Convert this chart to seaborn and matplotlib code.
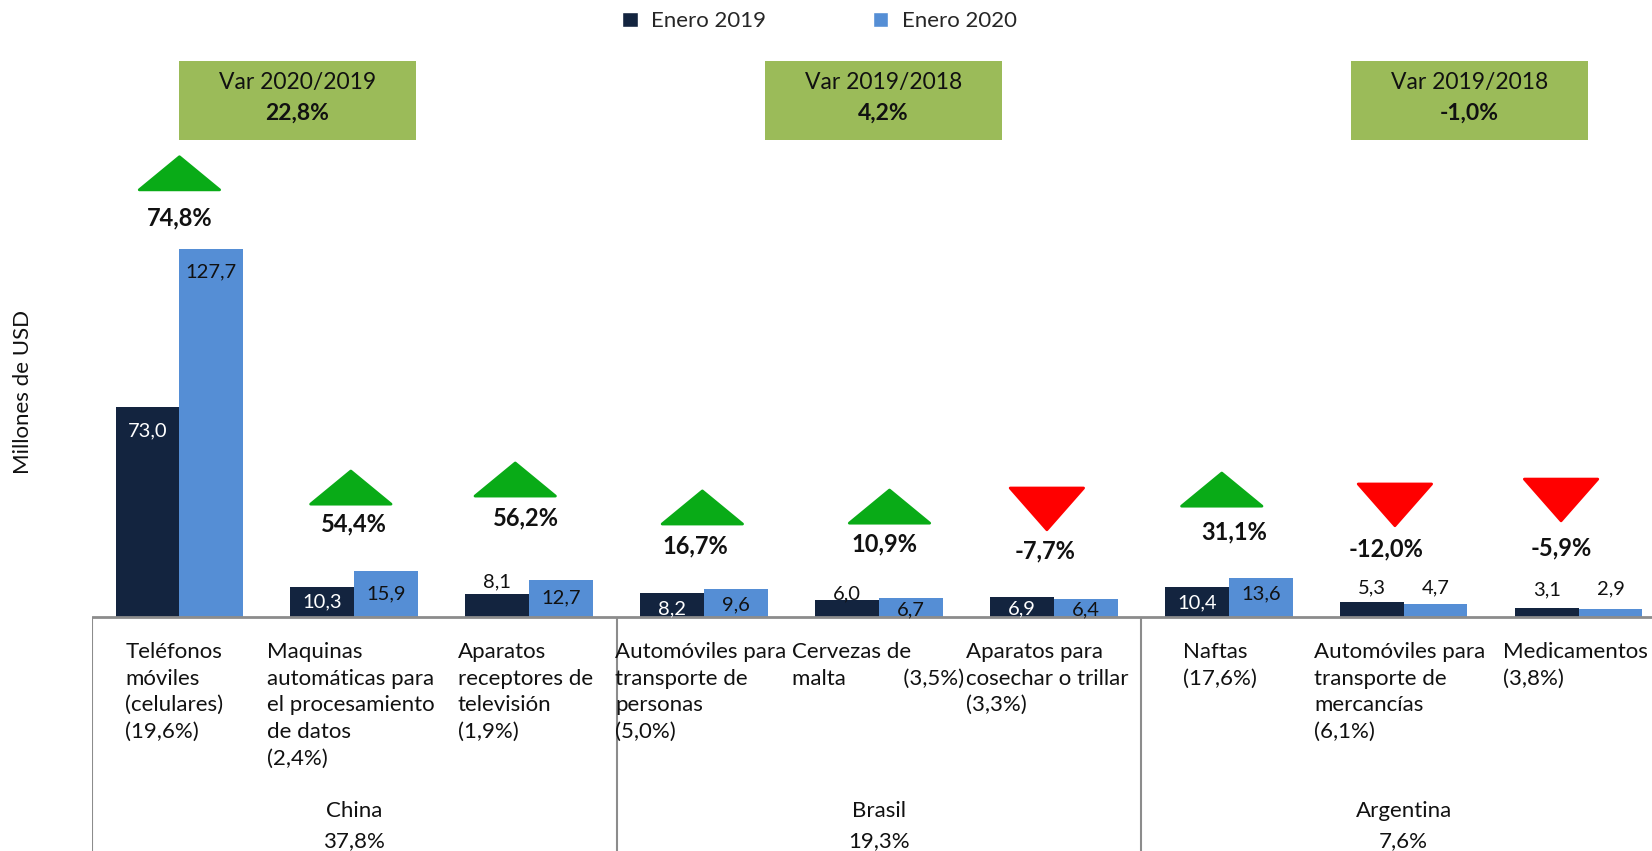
import matplotlib
matplotlib.use('Agg')
import matplotlib.pyplot as plt
from matplotlib.patches import Polygon, Rectangle, Patch
import seaborn as sns
import pandas as pd

# datos
productos = ['Teléfonos móviles', 'Maquinas automáticas', 'Aparatos receptores',
             'Automóviles personas', 'Cervezas de malta', 'Aparatos cosechar',
             'Naftas', 'Automóviles mercancías', 'Medicamentos']
etiquetas = ['Teléfonos\nmóviles\n(celulares)\n(19,6%)',
             'Maquinas\nautomáticas para\nel procesamiento\nde datos\n(2,4%)',
             'Aparatos\nreceptores de\ntelevisión\n(1,9%)',
             'Automóviles para\ntransporte de\npersonas\n(5,0%)',
             'Cervezas de\nmalta' + ' ' * 10 + '(3,5%)',
             'Aparatos para\ncosechar o trillar\n(3,3%)',
             'Naftas\n(17,6%)',
             'Automóviles para\ntransporte de\nmercancías\n(6,1%)',
             'Medicamentos\n(3,8%)']
enero_2019 = [73.0, 10.3, 8.1, 8.2, 6.0, 6.9, 10.4, 5.3, 3.1]
enero_2020 = [127.7, 15.9, 12.7, 9.6, 6.7, 6.4, 13.6, 4.7, 2.9]
variacion = [74.8, 54.4, 56.2, 16.7, 10.9, -7.7, 31.1, -12.0, -5.9]
paises = ['China', 'Brasil', 'Argentina']
paises_share = ['37,8%', '19,3%', '7,6%']
var_titulos = ['Var 2020/2019', 'Var 2019/2018', 'Var 2019/2018']
var_valores = ['22,8%', '4,2%', '-1,0%']

# layout (posiciones manuales de las etiquetas)
lab_y_19 = [64.5, 5.2, 12.3, 2.9, 8.1, 2.9, 5.0, 10.0, 9.3]
lab_y_20 = [119.7, 8.0, 6.6, 4.3, 2.4, 2.5, 8.1, 10.0, 9.8]
tri_pos = [(0.0, 148.3), (0.98, 39.2), (1.92, 42.0), (2.99, 32.3), (4.06, 32.6),
           (4.96, 44.8), (5.96, 38.5), (6.95, 46.2), (7.90, 47.9)]
pct_pos = [(0.0, 138.5), (1.0, 32.3), (1.98, 34.4), (2.95, 24.7), (4.03, 25.3),
           (4.95, 22.9), (6.03, 29.5), (6.9, 23.6), (7.9, 24.0)]
lab_x = [-0.31, 0.50, 1.59, 2.49, 3.50, 4.50, 5.74, 6.49, 7.57]

c19 = '#13243f'
c20 = '#558ed5'
FONT = 'Lato'

df = pd.DataFrame({
    'producto': productos * 2,
    'anio': ['Enero 2019'] * 9 + ['Enero 2020'] * 9,
    'valor': enero_2019 + enero_2020,
})

sns.set_style('white')
plt.rcParams['font.family'] = [FONT, 'DejaVu Sans']

fig = plt.figure(figsize=(16.52, 8.51), dpi=100)
ax = fig.add_axes([92 / 1652, 0, 1 - 92 / 1652, 1])
sns.barplot(data=df, x='producto', y='valor', hue='anio', order=productos,
            palette=[c19, c20], width=0.73, saturation=1, linewidth=0,
            legend=False, ax=ax)
ax.set_xlim(-0.5, 8.42)
ax.set_ylim(-81.2, 214.2)
ax.axis('off')

ax.axhline(0, color='#8c8c8c', lw=2, zorder=5)
ax.vlines([-0.5, 2.5, 5.5], -81.2, 0, color='#8c8c8c', lw=1.5)

fmt = lambda v: f'{v:.1f}'.replace('.', ',')
bw = 0.73 / 2
for i in range(9):
    col19 = 'white' if lab_y_19[i] < enero_2019[i] else '#111111'
    ax.text(i - bw / 2, lab_y_19[i], fmt(enero_2019[i]), ha='center', va='center',
            fontsize=14.5, color=col19, zorder=6)
    ax.text(i + bw / 2, lab_y_20[i], fmt(enero_2020[i]), ha='center', va='center',
            fontsize=14.5, color='#111111', zorder=6)

    x, y = tri_pos[i]
    if variacion[i] >= 0:
        pts = [(x - 0.23, y), (x + 0.23, y), (x, y + 11.5)]
        tc = '#09ab17'
    else:
        pts = [(x - 0.21, y), (x + 0.21, y), (x, y - 14.5)]
        tc = '#ff0000'
    ax.add_patch(Polygon(pts, closed=True, facecolor=tc, edgecolor=tc, lw=2,
                         joinstyle='round'))
    px, py = pct_pos[i]
    ax.text(px, py, fmt(variacion[i]) + '%', ha='center', va='center',
            fontsize=17, fontweight='bold', color='#111111')

    ax.text(lab_x[i], -8.6, etiquetas[i], ha='left', va='top', fontsize=16,
            linespacing=1.42, color='#111111')

for k in range(3):
    ax.text(1 + 3 * k, -67.4, paises[k], ha='center', va='center', fontsize=16,
            color='#111111')
    ax.text(1 + 3 * k, -77.8, paises_share[k], ha='center', va='center',
            fontsize=16, color='#111111')

# cajas de variacion
box_x = [179, 765, 1351]
for k in range(3):
    x0 = box_x[k] / 1652
    w = 237 / 1652
    fig.patches.append(Rectangle((x0, 1 - 140 / 851), w, 79 / 851,
                                 transform=fig.transFigure, facecolor='#9bbb59',
                                 edgecolor='none'))
    fig.text(x0 + w / 2, 0.9036, var_titulos[k], ha='center', va='center',
             fontsize=16.5, color='#111111')
    fig.text(x0 + w / 2, 0.8672, var_valores[k], ha='center', va='center',
             fontsize=16.5, fontweight='bold', color='#111111')

fig.text(0.014, 0.54, 'Millones de USD', rotation=90, ha='center', va='center',
         fontsize=16, color='#111111')

handles = [Patch(facecolor=c19), Patch(facecolor=c20)]
fig.legend(handles, ['Enero 2019', 'Enero 2020'], loc='center',
           bbox_to_anchor=(0.496, 0.975), ncol=2, frameon=False, fontsize=16,
           handlelength=0.7, handleheight=0.7, handletextpad=0.6,
           columnspacing=4.8)

fig.savefig('out.png', dpi=100)
